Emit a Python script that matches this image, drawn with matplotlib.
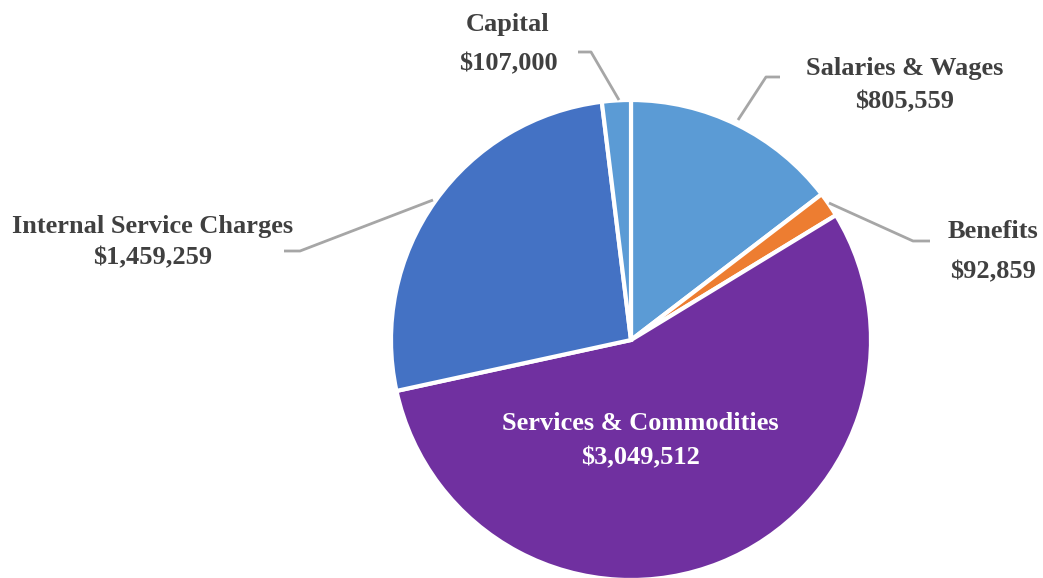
import matplotlib
matplotlib.use('Agg')
import matplotlib.pyplot as plt

# budget by category
categories = ['Salaries & Wages', 'Benefits', 'Services & Commodities',
              'Internal Service Charges', 'Capital']
amounts = [805559, 92859, 3049512, 1459259, 107000]
colors = ['#5B9BD5', '#ED7D31', '#7030A0', '#4472C4', '#5B9BD5']

plt.rcParams['font.family'] = ['Liberation Serif', 'DejaVu Serif']

W, H = 1043, 578
fig = plt.figure(figsize=(W / 100, H / 100), dpi=100)
ax = fig.add_axes([0, 0, 1, 1])

cx, cy, r = 631, H - 340, 240
ax.pie(amounts, colors=colors, startangle=90, counterclock=False,
       center=(cx, cy), radius=r, frame=True,
       wedgeprops=dict(edgecolor='white', linewidth=3))
ax.set_xlim(0, W)
ax.set_ylim(0, H)
ax.axis('off')


def money(v):
    return '${:,}'.format(v)


txt = '#404040'
line = '#A6A6A6'

# label x, name y, value y, leader points (pixels from top-left)
labels = {
    'Salaries & Wages': (905, 68, 102, [(738, 120), (766, 77), (780, 77)]),
    'Benefits': (993, 232, 272, [(829, 203), (913, 241), (930, 241)]),
    'Services & Commodities': (640, 424, 458, None),
    'Internal Service Charges': (153, 226, 258, [(433, 200), (300, 251), (284, 251)]),
    'Capital': (508, 24, 64, [(619, 100), (591, 52), (578, 52)]),
}

for name, val in zip(categories, amounts):
    lx, ny, vy, pts = labels[name]
    c = txt
    if pts is None:
        c = 'white'
    else:
        ax.plot([p[0] for p in pts], [H - p[1] for p in pts],
                color=line, lw=2, solid_capstyle='butt')
    ax.text(lx, H - ny, name, ha='center', va='center',
            fontsize=19, fontweight='bold', color=c)
    ax.text(lx, H - vy, money(val), ha='center', va='center',
            fontsize=19, fontweight='bold', color=c)

fig.savefig('out.png', dpi=100)
